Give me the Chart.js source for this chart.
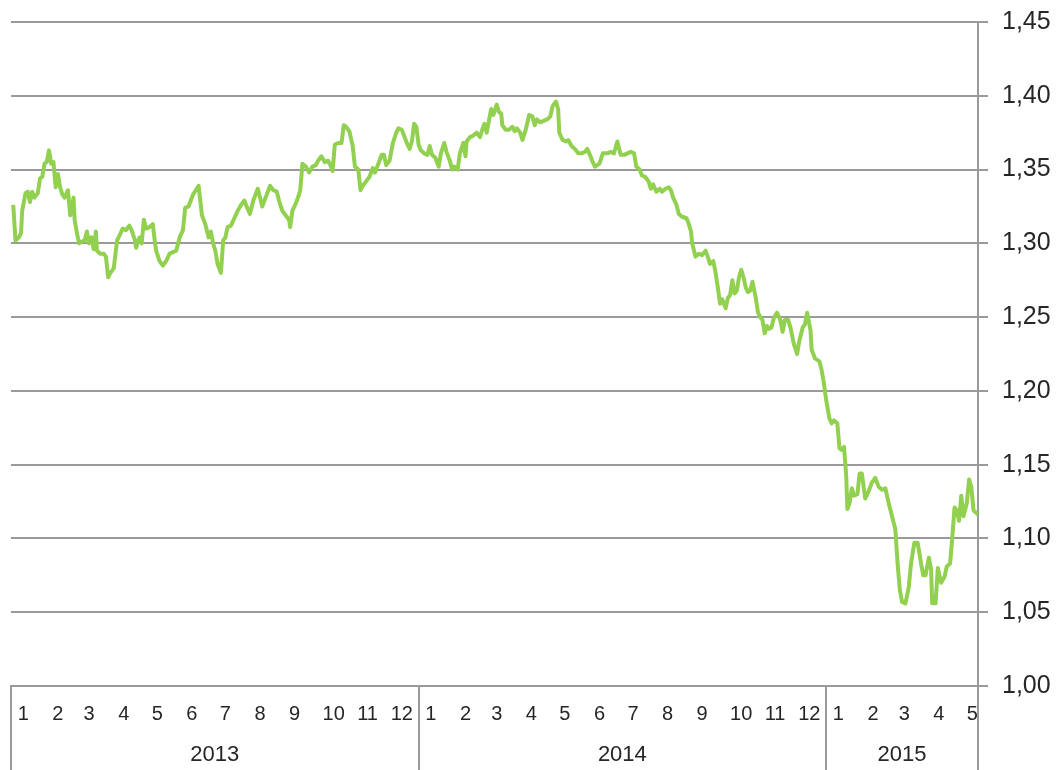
<!DOCTYPE html>
<html>
<head>
<meta charset="utf-8">
<script src="https://cdn.jsdelivr.net/npm/chart.js@4.4.1/dist/chart.umd.min.js"></script>
<style>
  html, body { margin: 0; padding: 0; background: #fff; }
  #wrap { width: 1057px; height: 770px; }
</style>
</head>
<body>
<div id="wrap"><canvas id="fxChart" width="1057" height="770"></canvas></div>
<script>
// EUR/USD, day of year -> rate
const years = ["2013", "2014", "2015"];
const yearStart = [0, 365, 730];
const monthStart = [0, 31, 59, 90, 120, 151, 181, 212, 243, 273, 304, 334];
const monthsShown = [12, 12, 5];
const monthLabels = ["1", "2", "3", "4", "5", "6", "7", "8", "9", "10", "11", "12"];
const yTicks = [1.00, 1.05, 1.10, 1.15, 1.20, 1.25, 1.30, 1.35, 1.40, 1.45];
const lastDay = 866;

const days2013 = [
  2, 4, 7, 9, 10, 13, 15, 17, 19, 21,
  24, 26, 28, 30, 32, 34, 36, 38, 40, 42,
  44, 46, 48, 51, 53, 56, 57, 59, 61, 63,
  66, 68, 70, 72, 74, 76, 77, 80, 83, 85,
  87, 89, 92, 95, 97, 100, 103, 106, 108, 111,
  112, 115, 117, 119, 121, 124, 127, 129, 130, 133,
  136, 139, 142, 145, 148, 151, 154, 156, 159, 161,
  163, 168, 171, 174, 177, 179, 181, 183, 185, 188,
  190, 192, 194, 197, 200, 203, 206, 209, 211, 214,
  217, 221, 223, 225, 228, 232, 235, 238, 240, 243,
  247, 249, 250, 252, 255, 257, 259, 261, 264, 267,
  270, 273, 275, 278, 281, 284, 286, 288, 290, 293,
  296, 298, 300, 303, 306, 308, 311, 313, 315, 318,
  321, 324, 326, 329, 332, 334, 336, 339, 342, 345,
  347, 350, 352, 355, 357, 359, 361, 363
];
const rate2013 = [
  1.326, 1.302, 1.304, 1.307, 1.322, 1.334, 1.335, 1.328, 1.335, 1.331,
  1.334, 1.344, 1.345, 1.354, 1.355, 1.363, 1.354, 1.355, 1.338, 1.347,
  1.338, 1.333, 1.331, 1.336, 1.319, 1.331, 1.316, 1.307, 1.300, 1.301,
  1.302, 1.308, 1.300, 1.304, 1.296, 1.308, 1.295, 1.293, 1.293, 1.291,
  1.277, 1.280, 1.283, 1.302, 1.305, 1.310, 1.309, 1.312, 1.309, 1.302,
  1.297, 1.304, 1.300, 1.316, 1.310, 1.311, 1.313, 1.300, 1.295, 1.288,
  1.285, 1.288, 1.293, 1.294, 1.295, 1.304, 1.309, 1.324, 1.325, 1.329,
  1.333, 1.339, 1.319, 1.313, 1.304, 1.308, 1.300, 1.295, 1.286, 1.280,
  1.302, 1.304, 1.311, 1.312, 1.317, 1.322, 1.326, 1.329, 1.325, 1.320,
  1.329, 1.337, 1.331, 1.325, 1.331, 1.339, 1.336, 1.335, 1.329, 1.322,
  1.318, 1.316, 1.311, 1.322, 1.327, 1.331, 1.336, 1.354, 1.352, 1.348,
  1.352, 1.353, 1.356, 1.359, 1.355, 1.356, 1.353, 1.349, 1.367, 1.368,
  1.368, 1.380, 1.379, 1.376, 1.366, 1.352, 1.350, 1.336, 1.339, 1.342,
  1.345, 1.351, 1.348, 1.354, 1.360, 1.360, 1.353, 1.356, 1.368, 1.375,
  1.378, 1.377, 1.373, 1.367, 1.364, 1.369, 1.381, 1.379
];

const days2014 = [
  0, 2, 5, 8, 10, 12, 15, 18, 20, 23,
  25, 28, 30, 32, 35, 37, 40, 42, 43, 46,
  49, 52, 55, 57, 59, 61, 64, 65, 67, 70,
  72, 74, 75, 78, 81, 84, 86, 88, 91, 93,
  96, 99, 102, 104, 106, 109, 112, 115, 118, 120,
  123, 125, 126, 129, 132, 134, 137, 140, 143, 146,
  149, 151, 154, 156, 158, 162, 165, 169, 172, 175,
  178, 181, 184, 187, 190, 193, 195, 198, 200, 203,
  206, 208, 210, 213, 216, 218, 221, 224, 226, 228,
  231, 233, 236, 240, 242, 244, 245, 248, 251, 254,
  257, 259, 261, 264, 266, 268, 270, 272, 275, 277,
  279, 281, 283, 285, 287, 289, 291, 293, 295, 297,
  299, 302, 304, 306, 308, 310, 312, 314, 316, 318,
  321, 324, 326, 328, 331, 333, 336, 339, 341, 344,
  346, 348, 351, 352, 355, 359, 361, 363
];
const rate2014 = [
  1.367, 1.363, 1.361, 1.360, 1.366, 1.360, 1.358, 1.352, 1.361, 1.368,
  1.362, 1.356, 1.350, 1.352, 1.350, 1.361, 1.368, 1.359, 1.369, 1.372,
  1.373, 1.375, 1.372, 1.377, 1.381, 1.375, 1.387, 1.391, 1.387, 1.394,
  1.389, 1.388, 1.380, 1.377, 1.377, 1.379, 1.376, 1.378, 1.375, 1.370,
  1.377, 1.387, 1.386, 1.380, 1.384, 1.382, 1.383, 1.384, 1.386, 1.393,
  1.396, 1.391, 1.375, 1.370, 1.369, 1.370, 1.366, 1.364, 1.361, 1.361,
  1.362, 1.364, 1.359, 1.355, 1.352, 1.354, 1.361, 1.361, 1.362, 1.361,
  1.369, 1.360, 1.360, 1.361, 1.362, 1.361, 1.352, 1.350, 1.346, 1.345,
  1.342, 1.337, 1.340, 1.335, 1.337, 1.335, 1.337, 1.338, 1.336, 1.331,
  1.326, 1.320, 1.318, 1.317, 1.313, 1.308, 1.300, 1.291, 1.293, 1.292,
  1.295, 1.291, 1.286, 1.288, 1.280, 1.270, 1.259, 1.262, 1.256, 1.263,
  1.265, 1.275, 1.266, 1.268, 1.277, 1.282, 1.277, 1.270, 1.267, 1.268,
  1.274, 1.263, 1.253, 1.250, 1.248, 1.239, 1.244, 1.242, 1.243, 1.249,
  1.253, 1.248, 1.240, 1.248, 1.248, 1.243, 1.232, 1.225, 1.234, 1.243,
  1.245, 1.253, 1.241, 1.228, 1.222, 1.220, 1.214, 1.205
];

const days2015 = [
  0, 3, 5, 7, 10, 12, 14, 16, 18, 19,
  21, 23, 25, 28, 30, 32, 35, 38, 41, 44,
  47, 50, 53, 56, 59, 62, 64, 66, 68, 71,
  74, 76, 79, 82, 85, 87, 89, 92, 94, 95,
  98, 100, 103, 106, 108, 111, 113, 115, 117, 119,
  121, 123, 126, 128, 130, 132, 135, 136
];
const rate2015 = [
  1.194, 1.181, 1.178, 1.180, 1.178, 1.161, 1.160, 1.162, 1.142, 1.120,
  1.124, 1.134, 1.129, 1.130, 1.144, 1.144, 1.127, 1.132, 1.138, 1.141,
  1.135, 1.133, 1.134, 1.124, 1.115, 1.106, 1.083, 1.065, 1.057, 1.056,
  1.067, 1.083, 1.097, 1.097, 1.083, 1.075, 1.075, 1.087, 1.079, 1.056,
  1.056, 1.080, 1.070, 1.074, 1.081, 1.083, 1.101, 1.121, 1.119, 1.112,
  1.129, 1.115, 1.124, 1.140, 1.135, 1.119, 1.117, 1.116
];

const gridColor = "#9a9a9a";
const textColor = "#262626";
const fontFamily = "'Liberation Sans', Arial, sans-serif";

// join the three years into one series on a running day axis
const dayLists = [days2013, days2014, days2015];
const rateLists = [rate2013, rate2014, rate2015];
const points = [];
dayLists.forEach((list, y) => {
    list.forEach((d, i) => points.push({ x: yearStart[y] + d, y: rateLists[y][i] }));
});

// month ticks, label placed a few days after the first of the month
const monthTicks = [];
const monthTickLabels = [];
years.forEach((yr, y) => {
    for (let m = 0; m < monthsShown[y]; m++) {
        monthTicks.push({ value: yearStart[y] + monthStart[m] + 6 });
        monthTickLabels.push(monthLabels[m]);
    }
});

// year row and separators under the month labels
const yearRow = {
    id: "yearRow",
    afterDraw(chart) {
        const { ctx, chartArea } = chart;
        const x = chart.scales.x;
        const bounds = yearStart.concat([lastDay]);
        ctx.save();
        ctx.strokeStyle = gridColor;
        ctx.lineWidth = 2;
        bounds.forEach(d => {
            const px = Math.round(x.getPixelForValue(d));
            ctx.beginPath();
            ctx.moveTo(px, chartArea.bottom);
            ctx.lineTo(px, chart.height);
            ctx.stroke();
        });
        ctx.fillStyle = textColor;
        ctx.font = "22px " + fontFamily;
        ctx.textAlign = "center";
        ctx.textBaseline = "middle";
        years.forEach((yr, i) => {
            const mid = (x.getPixelForValue(bounds[i]) + x.getPixelForValue(bounds[i + 1])) / 2;
            ctx.fillText(yr, mid, 755);
        });
        ctx.restore();
    }
};

const fxConfig = {
    type: "line",
    data: {
        datasets: [{
            label: "EUR/USD",
            data: points,
            borderColor: "#92d050",
            backgroundColor: "#92d050",
            borderWidth: 4,
            borderJoinStyle: "round",
            pointRadius: 0,
            tension: 0,
            fill: false
        }]
    },
    options: {
        responsive: false,
        animation: false,
        layout: { padding: { left: 11, top: 22, right: 0, bottom: 0 } },
        plugins: {
            legend: { display: false },
            tooltip: { enabled: false }
        },
        scales: {
            x: {
                type: "linear",
                min: 0,
                max: lastDay,
                afterBuildTicks: scale => { scale.ticks = monthTicks.map(t => ({ value: t.value })); },
                afterFit: scale => { scale.height = 84; },
                grid: { display: false, drawTicks: false },
                border: { display: true, color: gridColor, width: 2 },
                ticks: {
                    autoSkip: false,
                    maxRotation: 0,
                    minRotation: 0,
                    align: "start",
                    padding: 16,
                    color: textColor,
                    font: { family: fontFamily, size: 20 },
                    callback: (value, index) => monthTickLabels[index]
                }
            },
            y: {
                position: "right",
                min: yTicks[0],
                max: yTicks[yTicks.length - 1],
                afterBuildTicks: scale => { scale.ticks = yTicks.map(v => ({ value: v })); },
                afterFit: scale => {
                    scale.width = 79;
                    scale.paddingTop = 0;
                    scale.paddingBottom = 0;
                },
                grid: { color: gridColor, lineWidth: 2, tickLength: 10 },
                border: { display: true, color: gridColor, width: 2 },
                ticks: {
                    padding: 14,
                    color: textColor,
                    font: { family: fontFamily, size: 25 },
                    callback: v => v.toFixed(2).replace(".", ",")
                }
            }
        }
    },
    plugins: [yearRow]
};

const fxChart = new Chart(document.getElementById("fxChart"), fxConfig);
</script>
</body>
</html>
